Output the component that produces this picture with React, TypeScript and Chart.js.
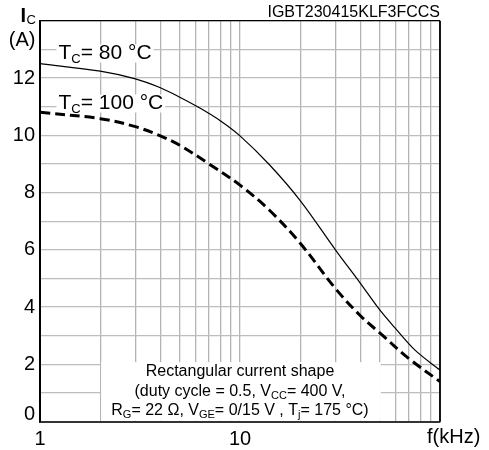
import React, { useEffect, useRef } from "react";
import { Chart, registerables } from "chart.js";

Chart.register(...registerables);

// ---- data ----
const freq80 = [1, 2, 3, 4, 5, 6.3, 8, 10, 14, 20, 30, 40, 50, 60, 75, 100];
const ic80 = [12.5, 12.24, 11.97, 11.66, 11.33, 10.95, 10.5, 9.98, 8.98, 7.72, 6.0, 4.83, 3.9, 3.25, 2.5, 1.8];

const freq100 = [1, 2, 3, 4, 5, 7, 10, 14, 20, 30, 40, 50, 70, 100];
const ic100 = [10.8, 10.58, 10.3, 9.98, 9.65, 9.0, 8.26, 7.39, 6.23, 4.65, 3.7, 3.1, 2.2, 1.4];

const xTickValues = [1, 2, 3, 4, 5, 6, 7, 8, 9, 10, 20, 30, 40, 50, 60, 70, 80, 90, 100];
const xLabeledTicks = [1, 10];
const yLabeledTicks = [2, 4, 6, 8, 10, 12];

const label80 = "= 80 °C";
const label100 = "= 100 °C";
const partNumber = "IGBT230415KLF3FCCS";
const noteLine1 = "Rectangular current shape";

const FONT = '"Liberation Sans", Arial, Helvetica, sans-serif';

type Part = { t: string; sub?: boolean };

function measureRich(ctx: CanvasRenderingContext2D, parts: Part[], size: number, subSize: number) {
  let w = 0;
  for (const p of parts) {
    ctx.font = `${p.sub ? subSize : size}px ${FONT}`;
    w += ctx.measureText(p.t).width;
  }
  return w;
}

function drawRich(
  ctx: CanvasRenderingContext2D,
  parts: Part[],
  x: number,
  y: number,
  align: "left" | "center" | "right",
  size: number,
  subSize: number,
  subDy: number
) {
  const w = measureRich(ctx, parts, size, subSize);
  let cx = align === "center" ? x - w / 2 : align === "right" ? x - w : x;
  ctx.textAlign = "left";
  ctx.textBaseline = "middle";
  ctx.fillStyle = "#000";
  for (const p of parts) {
    ctx.font = `${p.sub ? subSize : size}px ${FONT}`;
    ctx.fillText(p.t, cx, p.sub ? y + subDy : y);
    cx += ctx.measureText(p.t).width;
  }
  return w;
}

const decorPlugin = {
  id: "decor",
  beforeDatasetsDraw(chart: any) {
    const { ctx, chartArea, scales } = chart;
    const xs = scales.x;
    const ys = scales.y;
    ctx.save();

    // annotation box
    const bx0 = xs.getPixelForValue(2) + 1;
    const bx1 = xs.getPixelForValue(50) + 1;
    const by0 = ys.getPixelForValue(2.08);
    ctx.fillStyle = "#fff";
    ctx.fillRect(bx0, by0, bx1 - bx0, chartArea.bottom - by0 - 1);

    const cx = xs.getPixelForValue(10);
    ctx.fillStyle = "#000";
    ctx.font = `16px ${FONT}`;
    ctx.textAlign = "center";
    ctx.textBaseline = "middle";
    ctx.fillText(noteLine1, cx, 372);
    drawRich(
      ctx,
      [{ t: "(duty cycle = 0.5, V" }, { t: "CC", sub: true }, { t: "= 400 V," }],
      cx,
      391.5,
      "center",
      16,
      11,
      4
    );
    drawRich(
      ctx,
      [
        { t: "R" },
        { t: "G", sub: true },
        { t: "= 22 Ω, V" },
        { t: "GE", sub: true },
        { t: "= 0/15 V , T" },
        { t: "j", sub: true },
        { t: "= 175 °C)" },
      ],
      cx,
      411,
      "center",
      16,
      11,
      4
    );

    // curve labels with white background
    const lab = (text: string, x: number, y: number) => {
      const parts: Part[] = [{ t: "T" }, { t: "C", sub: true }, { t: text }];
      const w = measureRich(ctx, parts, 21, 13);
      ctx.fillStyle = "#fff";
      ctx.fillRect(x - 2, y - 9, w + 4, 18);
      drawRich(ctx, parts, x, y, "left", 21, 13, 6);
    };
    lab(label80, 58.5, 53.5);
    lab(label100, 58.5, 103.5);

    ctx.restore();
  },
  afterDraw(chart: any) {
    const { ctx, chartArea, scales } = chart;
    const xs = scales.x;
    const ys = scales.y;
    ctx.save();
    // top and right frame
    ctx.strokeStyle = "#000";
    ctx.lineWidth = 1.2;
    ctx.beginPath();
    ctx.moveTo(chartArea.left, chartArea.top);
    ctx.lineTo(chartArea.right, chartArea.top);
    ctx.stroke();
    ctx.lineWidth = 1.8;
    ctx.beginPath();
    ctx.moveTo(chartArea.right, chartArea.top);
    ctx.lineTo(chartArea.right, chartArea.bottom);
    ctx.stroke();

    ctx.fillStyle = "#000";
    // zero label (sits on the axis line)
    ctx.font = `20px ${FONT}`;
    ctx.textAlign = "right";
    ctx.textBaseline = "middle";
    ctx.fillText("0", chartArea.left - 5, ys.getPixelForValue(0) - 7.5);

    // axis unit labels
    ctx.font = `bold 20px ${FONT}`;
    ctx.textAlign = "left";
    ctx.fillText("I", 20.5, 16);
    ctx.font = `13px ${FONT}`;
    ctx.fillText("C", 26.5, 20.5);
    ctx.font = `20px ${FONT}`;
    ctx.textAlign = "right";
    ctx.fillText("(A)", 35.5, 40);

    ctx.textAlign = "left";
    ctx.fillText("f(kHz)", xs.getPixelForValue(100) - 13, 437);

    ctx.font = `16px ${FONT}`;
    ctx.textAlign = "right";
    ctx.fillText(partNumber, chartArea.right, 13);
    ctx.restore();
  },
};

export default function App() {
  const ref = useRef<HTMLCanvasElement | null>(null);

  useEffect(() => {
    if (!ref.current) return;
    const chart = new Chart(ref.current, {
      type: "line",
      data: {
        datasets: [
          {
            label: "Tc=80",
            data: freq80.map((f, i) => ({ x: f, y: ic80[i] })),
            borderColor: "#000",
            borderWidth: 1.2,
            pointRadius: 0,
            tension: 0.35,
            fill: false,
          },
          {
            label: "Tc=100",
            data: freq100.map((f, i) => ({ x: f, y: ic100[i] })),
            borderColor: "#000",
            borderWidth: 3,
            borderDash: [10, 5],
            pointRadius: 0,
            tension: 0.35,
            fill: false,
          },
        ],
      },
      options: {
        animation: false,
        responsive: false,
        devicePixelRatio: 1,
        layout: { padding: { top: 20.7, right: 49, left: 0, bottom: 0 } },
        plugins: { legend: { display: false }, tooltip: { enabled: false } },
        scales: {
          x: {
            type: "logarithmic",
            min: 1,
            max: 100,
            afterBuildTicks: (scale: any) => {
              scale.ticks = xTickValues.map((v) => ({ value: v }));
            },
            afterFit: (scale: any) => {
              scale.height = 450 - 421.7;
            },
            ticks: {
              autoSkip: false,
              maxRotation: 0,
              padding: 6,
              color: "#000",
              font: { family: FONT, size: 20 },
              callback: (v: any) => (xLabeledTicks.includes(Number(v)) ? String(v) : ""),
            },
            grid: { color: "#b4b4b4", lineWidth: 1.3, drawTicks: false },
            border: { display: true, color: "#333", width: 2 },
          },
          y: {
            type: "linear",
            min: 0,
            max: 14,
            afterFit: (scale: any) => {
              scale.width = 40;
            },
            ticks: {
              stepSize: 1,
              autoSkip: false,
              padding: 5,
              color: "#000",
              font: { family: FONT, size: 20 },
              callback: (v: any) => (yLabeledTicks.includes(Number(v)) ? String(v) : ""),
            },
            grid: { color: "#bdbdbd", lineWidth: 1.3, drawTicks: false },
            border: { display: true, color: "#000", width: 2 },
          },
        },
      },
      plugins: [decorPlugin],
    } as any);
    return () => chart.destroy();
  }, []);

  return (
    <div style={{ position: "absolute", left: 0, top: 0, width: 489, height: 450, background: "#fff" }}>
      <canvas ref={ref} width={489} height={450} />
    </div>
  );
}
